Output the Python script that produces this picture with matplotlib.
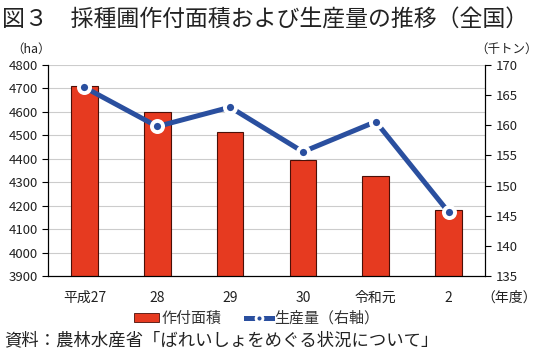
import numpy as np
import matplotlib
matplotlib.use("Agg")
from matplotlib import pyplot as plt
from matplotlib.lines import Line2D
from matplotlib.patches import Patch

plt.rcParams['font.family'] = ['Noto Sans CJK JP', 'DejaVu Sans']

# data
years = ["平成27", "28", "29", "30", "令和元", "2"]
area_ha = [4710, 4600, 4515, 4395, 4325, 4180]
production_kt = [166.3, 159.8, 163.0, 155.6, 160.6, 145.6]

RED = "#e63a20"
BLUE = "#2a4f9f"
TEXT = "#222222"

fig = plt.figure(figsize=(5.4, 3.54), dpi=100)
ax = fig.add_axes([0.0889, 0.2203, 0.8093, 0.5961])

x = np.arange(len(years))
ax.bar(x, area_ha, width=0.365, color=RED, edgecolor="#4a1008", linewidth=0.8, zorder=2)
ax.set_ylim(3900, 4800)
ax.set_yticks(np.arange(3900, 4801, 100))
ax.set_xlim(-0.5, len(years) - 0.5)
ax.set_xticks(x)
ax.set_xticklabels(years)
ax.yaxis.grid(True, color="#cccccc", linewidth=0.8, zorder=0)
ax.set_axisbelow(True)
ax.spines['top'].set_visible(False)
ax.tick_params(axis='x', length=0, pad=11, labelsize=10, labelcolor=TEXT)
ax.tick_params(axis='y', direction='out', length=4, labelsize=9.5, labelcolor=TEXT)

# production on the right axis; white marker edge gives the halo / gap look
ax2 = ax.twinx()
ax2.plot(x, production_kt, color=BLUE, linewidth=3.6, marker='o', markersize=8,
         markerfacecolor=BLUE, markeredgecolor="white", markeredgewidth=2.8, zorder=3)
ax2.set_ylim(135, 170)
ax2.set_yticks(np.arange(135, 171, 5))
ax2.spines['top'].set_visible(False)
ax2.tick_params(axis='y', direction='out', length=4, labelsize=9.5, labelcolor=TEXT)

fig.text(0.003, 0.975, "図３　採種圃作付面積および生産量の推移（全国）", fontsize=16.5,
         color=TEXT, va='top', ha='left')
fig.text(0.02, 0.862, "（ha）", fontsize=9, color=TEXT, va='center')
fig.text(0.995, 0.862, "（千トン）", fontsize=9, color=TEXT, va='center', ha='right')
fig.text(0.995, 0.16, "（年度）", fontsize=10, color=TEXT, va='center', ha='right')

handles = [Patch(facecolor=RED, edgecolor="#4a1008", linewidth=0.6),
           Line2D([], [], color=BLUE, linewidth=3.6, marker='o', markersize=5,
                  markerfacecolor=BLUE, markeredgecolor="white", markeredgewidth=2.0)]
fig.legend(handles, ["作付面積", "生産量（右軸）"], loc='center', bbox_to_anchor=(0.475, 0.1),
           ncol=2, frameon=False, fontsize=10.8, handlelength=1.7, handleheight=0.45,
           handletextpad=0.2, columnspacing=1.6, labelcolor="#333333")

fig.text(0.008, 0.04, "資料：農林水産省「ばれいしょをめぐる状況について」", fontsize=12.5,
         color=TEXT, va='center', ha='left')

fig.savefig("out.png", dpi=100)
